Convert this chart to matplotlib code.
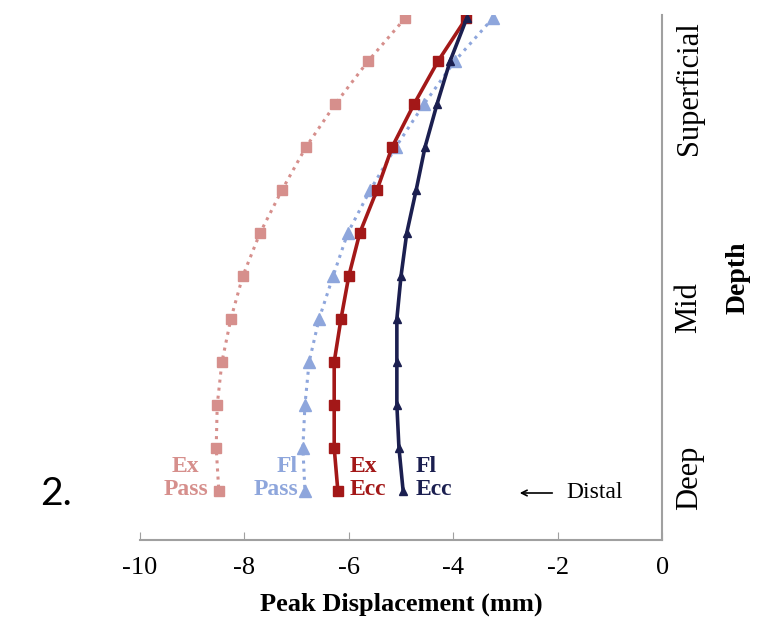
import matplotlib.pyplot as plt

# depth position of each sample point, top (superficial) to bottom (deep)
depth_pos = [11, 10, 9, 8, 7, 6, 5, 4, 3, 2, 1, 0]

ex_pass = [-4.92, -5.63, -6.26, -6.82, -7.28, -7.70, -8.03, -8.26, -8.43, -8.52, -8.54, -8.49]
fl_pass = [-3.24, -3.97, -4.56, -5.10, -5.59, -6.02, -6.30, -6.57, -6.76, -6.84, -6.88, -6.84]
ex_ecc = [-3.75, -4.29, -4.75, -5.17, -5.46, -5.79, -6.00, -6.15, -6.28, -6.28, -6.28, -6.21]
fl_ecc = [-3.74, -4.06, -4.31, -4.54, -4.71, -4.89, -5.00, -5.08, -5.08, -5.08, -5.04, -4.96]

zone_labels = ['Deep', 'Mid', 'Superficial']
zone_pos = [0.3, 4.26, 9.37]
x_ticks = [-10, -8, -6, -4, -2, 0]

c_ex_pass = '#d68f8c'
c_fl_pass = '#8ea6dc'
c_ex_ecc = '#a31818'
c_fl_ecc = '#1b1f50'

plt.rcParams['font.family'] = ['Liberation Serif', 'DejaVu Serif']

fig = plt.figure(figsize=(7.69, 6.27), dpi=100)
ax = fig.add_axes([0.182, 0.139, 0.679, 0.837])

ax.plot(ex_pass, depth_pos, ls=':', lw=2.2, color=c_ex_pass, marker='s', ms=7)
ax.plot(fl_pass, depth_pos, ls=':', lw=2.2, color=c_fl_pass, marker='^', ms=8)
ax.plot(ex_ecc, depth_pos, ls='-', lw=2.6, color=c_ex_ecc, marker='s', ms=7)
ax.plot(fl_ecc, depth_pos, ls='-', lw=2.6, color=c_fl_ecc, marker='^', ms=6)

ax.set_xlim(-10, 0)
ax.set_ylim(-1.14, 11.07)
ax.set_xticks(x_ticks)
ax.set_xticklabels([str(t) for t in x_ticks], fontsize=19)
ax.tick_params(axis='x', direction='in', length=6, color='#a0a0a0', pad=12)

ax.yaxis.tick_right()
ax.yaxis.set_label_position('right')
ax.set_yticks(zone_pos)
ax.set_yticklabels(zone_labels, rotation=90, va='center', fontsize=22)
ax.tick_params(axis='y', length=0, pad=9)
ax.set_ylabel('Depth', fontsize=20, fontweight='bold', labelpad=16)
ax.set_xlabel('Peak Displacement (mm)', fontsize=19, fontweight='bold', labelpad=10)

for side in ['top', 'left']:
    ax.spines[side].set_visible(False)
for side in ['bottom', 'right']:
    ax.spines[side].set_color('#a0a0a0')
    ax.spines[side].set_linewidth(1.5)

# series labels near the deep end
ax.text(-9.12, 0.3, 'Ex\nPass', color=c_ex_pass, fontsize=17, fontweight='bold',
        ha='center', va='center', linespacing=1.1)
ax.text(-6.97, 0.3, 'Fl\nPass', color=c_fl_pass, fontsize=17, fontweight='bold',
        ha='right', va='center', multialignment='right', linespacing=1.1)
ax.text(-5.98, 0.3, 'Ex\nEcc', color=c_ex_ecc, fontsize=17, fontweight='bold',
        ha='left', va='center', linespacing=1.1)
ax.text(-4.73, 0.3, 'Fl\nEcc', color=c_fl_ecc, fontsize=17, fontweight='bold',
        ha='left', va='center', linespacing=1.1)

ax.annotate('', xy=(-2.78, -0.05), xytext=(-2.05, -0.05),
            arrowprops=dict(arrowstyle='->', color='black', lw=1.2))
ax.text(-1.83, -0.05, 'Distal', fontsize=17, ha='left', va='center')

fig.text(0.052, 0.212, '2.', fontsize=28, family=['Lato', 'DejaVu Sans'], va='center')

fig.savefig('out.png', dpi=100)
